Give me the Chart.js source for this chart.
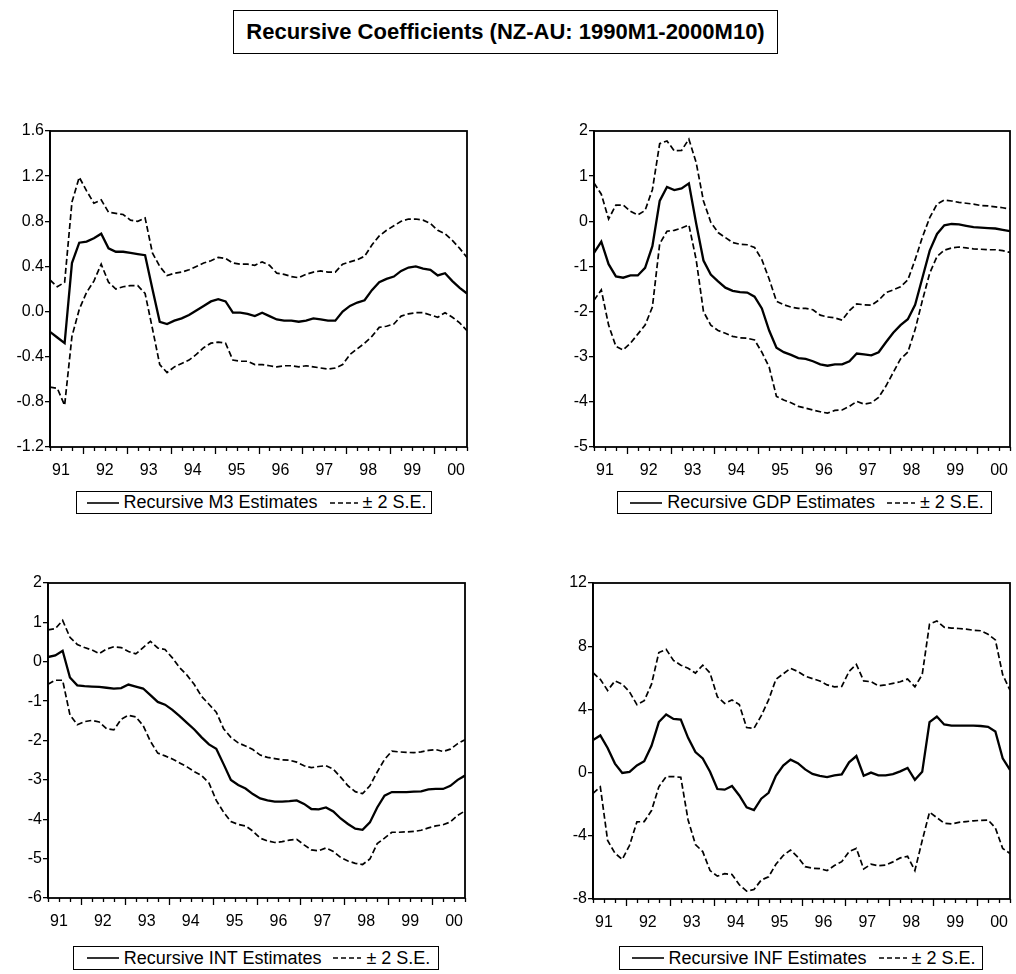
<!DOCTYPE html>
<html>
<head>
<meta charset="utf-8">
<script src="https://cdn.jsdelivr.net/npm/chart.js@4.4.1/dist/chart.umd.min.js"></script>
<style>
    html, body { margin: 0; padding: 0; background: #fff; overflow: hidden; }
    body { width: 1016px; height: 974px; position: relative; font-family: "Liberation Sans", Arial, sans-serif; color: #000; }
    canvas { position: absolute; }
    .title {
        position: absolute; left: 233px; top: 10px; width: 543px; height: 42px;
        border: 1.5px solid #000; text-align: center; line-height: 42px;
        font-weight: bold; font-size: 22px;
    }
    .legend {
        position: absolute; border: 1.5px solid #000; box-sizing: border-box;
        display: flex; align-items: center; justify-content: center;
        font-size: 18px; white-space: nowrap;
    }
    .legend svg { margin: 0 5px; }
</style>
</head>
<body>
<div class="title">Recursive Coefficients (NZ-AU: 1990M1-2000M10)</div>

<canvas id="m3Chart" width="473" height="362" style="left:0px;top:119px"></canvas>
<canvas id="gdpChart" width="472" height="362" style="left:544px;top:119px"></canvas>
<canvas id="intChart" width="473" height="361" style="left:-2px;top:571px"></canvas>
<canvas id="infChart" width="473" height="362" style="left:543px;top:571px"></canvas>

<div id="m3Legend" class="legend" style="left:76px;top:491px;width:356px;height:23px"></div>
<div id="gdpLegend" class="legend" style="left:617px;top:491px;width:375px;height:23px"></div>
<div id="intLegend" class="legend" style="left:73px;top:946px;width:366px;height:24px"></div>
<div id="infLegend" class="legend" style="left:619px;top:946px;width:364px;height:24px"></div>

<script>
// observations (every second month of the recursive sample)
const months = [
    '1991M04', '1991M06', '1991M08', '1991M10', '1991M12',
    '1992M02', '1992M04', '1992M06', '1992M08', '1992M10', '1992M12',
    '1993M02', '1993M04', '1993M06', '1993M08', '1993M10', '1993M12',
    '1994M02', '1994M04', '1994M06', '1994M08', '1994M10', '1994M12',
    '1995M02', '1995M04', '1995M06', '1995M08', '1995M10', '1995M12',
    '1996M02', '1996M04', '1996M06', '1996M08', '1996M10', '1996M12',
    '1997M02', '1997M04', '1997M06', '1997M08', '1997M10', '1997M12',
    '1998M02', '1998M04', '1998M06', '1998M08', '1998M10', '1998M12',
    '1999M02', '1999M04', '1999M06', '1999M08', '1999M10', '1999M12',
    '2000M02', '2000M04', '2000M06', '2000M08', '2000M10'
];
const yearLabels = ['91', '92', '93', '94', '95', '96', '97', '98', '99', '00'];

// M3
const m3Est = [-0.18, -0.23, -0.28, 0.43, 0.61, 0.62, 0.65, 0.69, 0.56, 0.53,
    0.53, 0.52, 0.51, 0.50, 0.20, -0.09, -0.11, -0.08, -0.06, -0.03,
    0.01, 0.05, 0.09, 0.11, 0.09, -0.01, -0.01, -0.02, -0.04, -0.01,
    -0.04, -0.07, -0.08, -0.08, -0.09, -0.08, -0.06, -0.07, -0.08, -0.08,
    0.00, 0.05, 0.08, 0.10, 0.19, 0.26, 0.29, 0.31, 0.36, 0.39,
    0.40, 0.38, 0.37, 0.32, 0.34, 0.27, 0.21, 0.16];
const m3Upper = [0.28, 0.22, 0.26, 0.97, 1.19, 1.07, 0.96, 0.99, 0.88, 0.87,
    0.86, 0.81, 0.80, 0.83, 0.52, 0.40, 0.32, 0.34, 0.35, 0.37,
    0.40, 0.43, 0.45, 0.48, 0.47, 0.43, 0.42, 0.42, 0.41, 0.44,
    0.41, 0.34, 0.33, 0.31, 0.30, 0.33, 0.35, 0.36, 0.35, 0.35,
    0.42, 0.44, 0.46, 0.49, 0.59, 0.67, 0.72, 0.76, 0.80, 0.82,
    0.82, 0.81, 0.78, 0.72, 0.69, 0.63, 0.56, 0.48];
const m3Lower = [-0.67, -0.68, -0.83, -0.22, 0.02, 0.17, 0.27, 0.42, 0.26, 0.20,
    0.22, 0.23, 0.23, 0.16, -0.15, -0.47, -0.54, -0.49, -0.46, -0.43,
    -0.38, -0.32, -0.28, -0.27, -0.28, -0.43, -0.44, -0.44, -0.47, -0.47,
    -0.48, -0.49, -0.48, -0.48, -0.49, -0.48, -0.49, -0.50, -0.51, -0.50,
    -0.47, -0.38, -0.33, -0.28, -0.22, -0.14, -0.13, -0.11, -0.04, -0.02,
    -0.01, -0.01, -0.03, -0.05, -0.01, -0.05, -0.10, -0.17];

// GDP
const gdpEst = [-0.70, -0.45, -0.95, -1.22, -1.25, -1.20, -1.20, -1.03, -0.55, 0.45,
    0.76, 0.69, 0.73, 0.84, -0.05, -0.87, -1.18, -1.33, -1.47, -1.54,
    -1.57, -1.58, -1.67, -1.93, -2.42, -2.80, -2.90, -2.96, -3.03, -3.05,
    -3.10, -3.17, -3.20, -3.17, -3.17, -3.10, -2.93, -2.95, -2.97, -2.90,
    -2.68, -2.47, -2.30, -2.17, -1.85, -1.25, -0.65, -0.28, -0.09, -0.06,
    -0.07, -0.10, -0.13, -0.14, -0.15, -0.16, -0.19, -0.22];
const gdpUpper = [0.85, 0.60, 0.05, 0.36, 0.36, 0.22, 0.14, 0.24, 0.70, 1.72,
    1.78, 1.56, 1.57, 1.82, 1.30, 0.45, -0.02, -0.25, -0.36, -0.47,
    -0.51, -0.52, -0.58, -0.85, -1.28, -1.77, -1.85, -1.90, -1.93, -1.93,
    -1.96, -2.08, -2.12, -2.14, -2.19, -1.98, -1.83, -1.85, -1.86, -1.75,
    -1.58, -1.52, -1.45, -1.30, -0.85, -0.35, 0.08, 0.38, 0.47, 0.45,
    0.42, 0.40, 0.38, 0.35, 0.34, 0.32, 0.30, 0.27];
const gdpLower = [-1.75, -1.52, -2.30, -2.77, -2.85, -2.70, -2.50, -2.30, -1.90, -0.50,
    -0.22, -0.20, -0.15, -0.08, -0.85, -2.00, -2.30, -2.42, -2.48, -2.55,
    -2.58, -2.59, -2.63, -2.90, -3.23, -3.88, -3.96, -4.02, -4.10, -4.14,
    -4.18, -4.22, -4.25, -4.19, -4.18, -4.10, -3.99, -4.05, -4.02, -3.90,
    -3.65, -3.35, -3.05, -2.90, -2.40, -1.75, -1.15, -0.78, -0.64, -0.59,
    -0.57, -0.59, -0.61, -0.62, -0.63, -0.63, -0.65, -0.69];

// INT
const intEst = [0.12, 0.16, 0.28, -0.40, -0.60, -0.62, -0.63, -0.64, -0.66, -0.68,
    -0.67, -0.58, -0.63, -0.68, -0.85, -1.02, -1.09, -1.22, -1.38, -1.55,
    -1.72, -1.92, -2.10, -2.21, -2.60, -3.00, -3.13, -3.22, -3.36, -3.47,
    -3.52, -3.55, -3.55, -3.54, -3.52, -3.61, -3.74, -3.75, -3.70, -3.80,
    -3.98, -4.12, -4.24, -4.27, -4.08, -3.70, -3.40, -3.31, -3.31, -3.31,
    -3.30, -3.29, -3.24, -3.23, -3.23, -3.15, -3.00, -2.89];
const intUpper = [0.81, 0.84, 1.05, 0.62, 0.44, 0.36, 0.30, 0.21, 0.32, 0.38,
    0.36, 0.26, 0.20, 0.36, 0.52, 0.35, 0.31, 0.10, -0.15, -0.34,
    -0.58, -0.88, -1.08, -1.28, -1.70, -1.92, -2.06, -2.14, -2.23, -2.37,
    -2.43, -2.46, -2.49, -2.50, -2.55, -2.64, -2.69, -2.66, -2.64, -2.73,
    -2.93, -3.15, -3.30, -3.35, -3.15, -2.80, -2.48, -2.27, -2.29, -2.30,
    -2.31, -2.29, -2.25, -2.23, -2.28, -2.22, -2.08, -1.98];
const intLower = [-0.57, -0.47, -0.47, -1.35, -1.60, -1.52, -1.49, -1.53, -1.70, -1.73,
    -1.46, -1.36, -1.40, -1.62, -2.02, -2.32, -2.39, -2.47, -2.57, -2.67,
    -2.79, -2.89, -3.08, -3.52, -3.82, -4.06, -4.13, -4.17, -4.30, -4.48,
    -4.55, -4.59, -4.57, -4.53, -4.51, -4.65, -4.78, -4.80, -4.73, -4.82,
    -4.97, -5.06, -5.12, -5.15, -5.01, -4.62, -4.48, -4.33, -4.33, -4.32,
    -4.31, -4.28, -4.22, -4.17, -4.14, -4.07, -3.90, -3.79];

// INF
const infEst = [2.06, 2.35, 1.56, 0.57, -0.02, 0.04, 0.45, 0.72, 1.70, 3.20,
    3.68, 3.40, 3.35, 2.20, 1.30, 0.90, 0.05, -1.04, -1.08, -0.85,
    -1.45, -2.20, -2.37, -1.65, -1.28, -0.20, 0.45, 0.82, 0.60, 0.20,
    -0.08, -0.20, -0.28, -0.18, -0.11, 0.65, 1.05, -0.20, 0.00, -0.17,
    -0.17, -0.10, 0.08, 0.30, -0.46, 0.05, 3.20, 3.55, 3.05, 2.97,
    2.97, 2.97, 2.97, 2.95, 2.90, 2.60, 0.90, 0.17];
const infUpper = [6.32, 5.90, 5.20, 5.80, 5.60, 5.10, 4.30, 4.55, 5.60, 7.60,
    7.80, 7.10, 6.80, 6.60, 6.30, 6.80, 6.30, 4.80, 4.38, 4.60,
    4.30, 2.85, 2.80, 3.60, 4.60, 5.90, 6.25, 6.60, 6.40, 6.10,
    5.95, 5.80, 5.55, 5.43, 5.45, 6.40, 6.85, 5.80, 5.75, 5.50,
    5.55, 5.65, 5.75, 5.92, 5.43, 6.20, 9.40, 9.60, 9.20, 9.15,
    9.12, 9.08, 9.01, 8.98, 8.75, 8.40, 6.20, 5.22];
const infLower = [-1.31, -0.90, -4.30, -5.10, -5.50, -4.60, -3.12, -3.10, -2.40, -0.90,
    -0.25, -0.25, -0.30, -3.00, -4.55, -5.00, -6.20, -6.55, -6.40, -6.45,
    -7.10, -7.50, -7.40, -6.80, -6.60, -5.80, -5.25, -4.90, -5.35, -5.95,
    -6.05, -6.08, -6.20, -5.88, -5.64, -5.00, -4.80, -6.10, -5.80, -5.90,
    -5.85, -5.65, -5.40, -5.30, -6.20, -4.30, -2.50, -2.85, -3.20, -3.25,
    -3.15, -3.10, -3.05, -3.02, -3.00, -3.50, -4.80, -5.12];

const FONT = "'Liberation Sans', Arial, sans-serif";

// '1991M04' -> 1991.25
function monthToYear(m) {
    const [y, mm] = m.split('M');
    return Number(y) + (Number(mm) - 1) / 12;
}
const xs = months.map(monthToYear);
const toPoints = vals => vals.map((v, i) => ({ x: xs[i], y: v }));

// frame around the plot + eviews style date ticks (long at year start, short each quarter)
const frameTicks = {
    id: 'frameTicks',
    afterDraw(chart) {
        const { ctx, chartArea: a, scales: { x } } = chart;
        ctx.save();
        ctx.strokeStyle = '#000';
        ctx.lineWidth = 1.3;
        x.ticks.forEach(t => {
            const px = Math.round(x.getPixelForValue(t.value)) + 0.5;
            const major = Math.abs(t.value - Math.round(t.value)) < 1e-6;
            ctx.beginPath();
            ctx.moveTo(px, a.bottom);
            ctx.lineTo(px, a.bottom + (major ? 7 : 4));
            ctx.stroke();
        });
        ctx.lineWidth = 1.8;
        ctx.strokeRect(a.left, a.top, a.right - a.left, a.bottom - a.top);
        ctx.restore();
    }
};

function makePanel(canvasId, est, upper, lower, yMin, yMax, yStep, decimals, rightPad) {
    const dashed = {
        borderColor: '#000', borderWidth: 1.7, borderDash: [6, 3],
        pointRadius: 0, tension: 0, fill: false
    };
    return new Chart(document.getElementById(canvasId), {
        type: 'line',
        data: {
            datasets: [
                { label: 'Estimate', data: toPoints(est), borderColor: '#000', borderWidth: 2.3, pointRadius: 0, tension: 0, fill: false },
                Object.assign({ label: 'Upper', data: toPoints(upper) }, dashed),
                Object.assign({ label: 'Lower', data: toPoints(lower) }, dashed)
            ]
        },
        options: {
            responsive: false,
            animation: false,
            layout: { padding: { top: 12, right: rightPad, left: 0, bottom: 0 } },
            plugins: { legend: { display: false }, tooltip: { enabled: false } },
            scales: {
                x: {
                    type: 'linear',
                    min: xs[0],
                    max: xs[xs.length - 1],
                    afterFit: s => { s.height = 34; },
                    grid: { display: false },
                    border: { display: false },
                    ticks: {
                        stepSize: 0.25,
                        autoSkip: false,
                        maxRotation: 0,
                        padding: 6,
                        color: '#000',
                        font: { family: FONT, size: 16 },
                        callback: v => {
                            const frac = v - Math.floor(v);
                            if (Math.abs(frac - 0.5) > 1e-6) return '';
                            return yearLabels[Math.floor(v) - 1991];
                        }
                    }
                },
                y: {
                    min: yMin,
                    max: yMax,
                    afterFit: s => { s.width = 50; },
                    grid: { drawOnChartArea: false, tickLength: 5, color: '#000', lineWidth: 1.3 },
                    border: { display: true, color: '#000', width: 1.8 },
                    ticks: {
                        stepSize: yStep,
                        padding: 1,
                        color: '#000',
                        font: { family: FONT, size: 16 },
                        callback: v => Number(v).toFixed(decimals)
                    }
                }
            }
        },
        plugins: [frameTicks]
    });
}

makePanel('m3Chart', m3Est, m3Upper, m3Lower, -1.2, 1.6, 0.4, 1, 2);
makePanel('gdpChart', gdpEst, gdpUpper, gdpLower, -5, 2, 1, 0, 1);
makePanel('intChart', intEst, intUpper, intLower, -6, 2, 1, 0, 4);
makePanel('infChart', infEst, infUpper, infLower, -8, 12, 4, 0, 4);

// legends as in the eviews output
function buildLegend(id, name) {
    const el = document.getElementById(id);
    el.innerHTML = `
        <svg width="32" height="6"><line x1="0" y1="3" x2="32" y2="3" stroke="#000" stroke-width="1.6"/></svg>
        <span>Recursive ${name} Estimates</span>
        <svg width="28" height="6" style="margin-left:12px"><line x1="0" y1="3" x2="28" y2="3" stroke="#000" stroke-width="1.6" stroke-dasharray="5,3"/></svg>
        <span>± 2 S.E.</span>`;
}
buildLegend('m3Legend', 'M3');
buildLegend('gdpLegend', 'GDP');
buildLegend('intLegend', 'INT');
buildLegend('infLegend', 'INF');
</script>
</body>
</html>
